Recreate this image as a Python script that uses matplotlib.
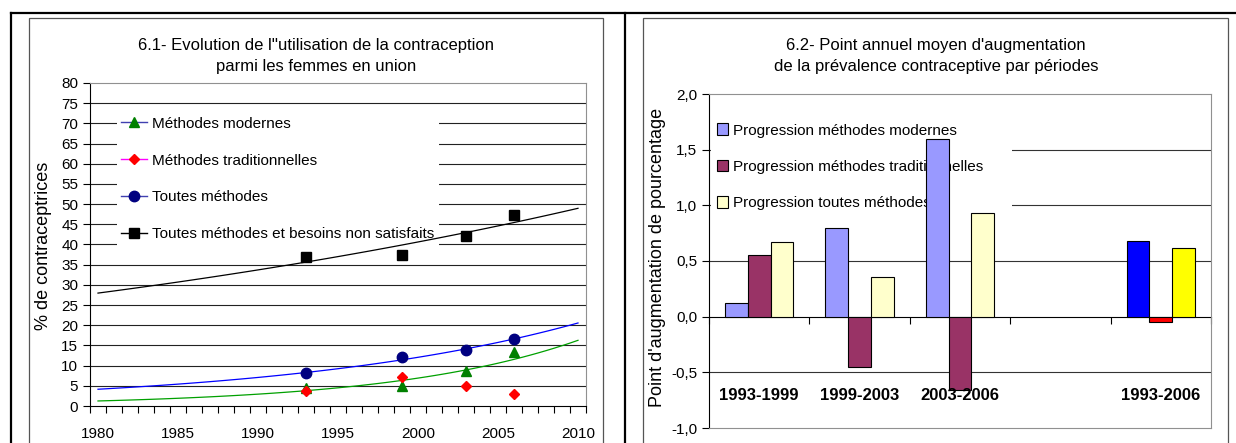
import numpy as np
import matplotlib
matplotlib.use("Agg")
import matplotlib.pyplot as plt
from matplotlib.lines import Line2D
from matplotlib.patches import Patch, Rectangle
from matplotlib.ticker import FuncFormatter, MultipleLocator

plt.rcParams['font.family'] = ['Liberation Sans', 'DejaVu Sans']

# --- data, panel 6.1 (% of women in union) ---
years = [1993, 1999, 2003, 2006]
modernes = [4.4, 4.9, 8.6, 13.4]
traditionnelles = [3.6, 7.1, 5.0, 3.0]
toutes = [8.1, 12.1, 13.8, 16.5]
toutes_besoins = [37.0, 37.5, 42.2, 47.4]

# --- data, panel 6.2 (annual points of increase) ---
periodes = ['1993-1999', '1999-2003', '2003-2006', '', '1993-2006']
prog_modernes = [0.12, 0.80, 1.60, np.nan, 0.68]
prog_trad = [0.55, -0.45, -0.66, np.nan, -0.05]
prog_toutes = [0.67, 0.36, 0.93, np.nan, 0.62]
col_modernes = ['#9999FF', '#9999FF', '#9999FF', '#9999FF', '#0000FF']
col_trad = ['#993366', '#993366', '#993366', '#993366', '#FF0000']
col_toutes = ['#FFFFCC', '#FFFFCC', '#FFFFCC', '#FFFFCC', '#FFFF00']

W, H = 1236, 443
fig = plt.figure(figsize=(W / 100, H / 100), dpi=100)


def fx(px):
    return px / W


def fy(py):
    return 1 - py / H


# outer black frame and divider
fig.add_artist(Line2D([fx(11), 1], [fy(13), fy(13)], color='black', lw=1.6))
fig.add_artist(Line2D([fx(11), fx(11)], [fy(13), 0], color='black', lw=1.6))
fig.add_artist(Line2D([fx(625), fx(625)], [fy(13), 0], color='black', lw=1.6))
# grey chart-area boxes
fig.add_artist(Rectangle((fx(29), -0.1), fx(603 - 29), fy(18) + 0.1,
                         fill=False, edgecolor='#555555', lw=0.9))
fig.add_artist(Rectangle((fx(643), -0.1), fx(1228 - 643), fy(18) + 0.1,
                         fill=False, edgecolor='#555555', lw=0.9))

# ---------------- panel 6.1 ----------------
ax1 = fig.add_axes([fx(90), fy(406), fx(586 - 90), (406 - 83) / H])
ax1.set_xlim(1979.5, 2010.5)
ax1.set_ylim(0, 80)
ax1.yaxis.set_major_locator(MultipleLocator(5))
ax1.set_xticks(range(1980, 2011, 5))
ax1.set_xticks(np.arange(1979.5, 2011, 1), minor=True)
ax1.tick_params(axis='x', which='major', length=0, pad=15, labelsize=11)
ax1.tick_params(axis='x', which='minor', length=5, width=0.8)
ax1.tick_params(axis='y', length=5, width=0.8, labelsize=11)
for y in range(5, 80, 5):
    ax1.axhline(y, color='#222222', lw=0.8, zorder=0)
for s in ['top', 'right']:
    ax1.spines[s].set_color('#909090')
for s in ['left', 'bottom']:
    ax1.spines[s].set_color('black')

# exponential trendlines fitted on the observed points
xt = np.linspace(1980, 2010, 61)
for vals, c in [(modernes, '#00A000'), (toutes, '#0000FF'), (toutes_besoins, 'black')]:
    b, a = np.polyfit(years, np.log(vals), 1)
    ax1.plot(xt, np.exp(a + b * xt), color=c, lw=0.9, zorder=2)

ax1.plot(years, modernes, ls='none', marker='^', ms=7.5, color='#008000', zorder=3)
ax1.plot(years, traditionnelles, ls='none', marker='D', ms=5.5, color='#FF0000', zorder=4)
ax1.plot(years, toutes, ls='none', marker='o', ms=7.5, color='#000080', zorder=3)
ax1.plot(years, toutes_besoins, ls='none', marker='s', ms=7, color='black', zorder=3)

h1 = [
    Line2D([], [], color='#4040B0', lw=1, marker='^', ms=7.5, mfc='#008000', mec='#008000'),
    Line2D([], [], color='#FF00FF', lw=1, marker='D', ms=5.5, mfc='#FF0000', mec='#FF0000'),
    Line2D([], [], color='#4040B0', lw=1, marker='o', ms=7.5, mfc='#000080', mec='#000080'),
    Line2D([], [], color='black', lw=1, marker='s', ms=7, mfc='black', mec='black'),
]
lab1 = ['Méthodes modernes', 'Méthodes traditionnelles', 'Toutes méthodes',
        'Toutes méthodes et besoins non satisfaits']
leg1 = ax1.legend(h1, lab1, loc='upper left', bbox_to_anchor=(0.054, 0.91),
                  borderaxespad=0, fontsize=11, frameon=True, fancybox=False,
                  facecolor='white', edgecolor='none', framealpha=1,
                  handlelength=1.7, handletextpad=0.3, labelspacing=1.5,
                  borderpad=0.3)
leg1.set_zorder(1)

fig.text(fx(316), fy(56), "6.1- Evolution de l''utilisation de la contraception\nparmi les femmes en union",
         ha='center', va='center', fontsize=12, linespacing=1.48)
fig.text(fx(43), fy(246), '% de contraceptrices', rotation=90,
         ha='center', va='center', fontsize=13)

# ---------------- panel 6.2 ----------------
ax2 = fig.add_axes([fx(709), fy(428), fx(1211 - 709), (428 - 94) / H])
ax2.set_xlim(-0.5, 4.5)
ax2.set_ylim(-1.0, 2.0)
ax2.yaxis.set_major_locator(MultipleLocator(0.5))
ax2.yaxis.set_major_formatter(FuncFormatter(lambda v, p: f'{v:.1f}'.replace('.', ',')))
ax2.tick_params(axis='y', length=5, width=0.8, labelsize=11)
ax2.set_xticks([])
for y in [1.5, 1.0, 0.5, -0.5]:
    ax2.axhline(y, color='#333333', lw=0.8, zorder=0)
for s in ['top', 'right', 'bottom']:
    ax2.spines[s].set_color('#909090')
ax2.spines['left'].set_color('black')

x = np.arange(len(periodes))
bw = 0.227
ax2.bar(x - bw, prog_modernes, bw, color=col_modernes, edgecolor='black', lw=0.8, zorder=3)
ax2.bar(x, prog_trad, bw, color=col_trad, edgecolor='black', lw=0.8, zorder=3)
ax2.bar(x + bw, prog_toutes, bw, color=col_toutes, edgecolor='black', lw=0.8, zorder=3)

# category axis drawn through zero
zax = ax2.secondary_xaxis(1 / 3)
zax.set_xticks(np.arange(-0.5, 4.6, 1))
zax.set_xticklabels([])
zax.tick_params(length=5, width=0.8, direction='out')
zax.spines['bottom'].set_color('black')
zax.spines['bottom'].set_zorder(4)
for xi, lab in zip(x, periodes):
    ax2.text(xi, -0.71, lab, ha='center', va='center', fontsize=12,
             fontweight='bold')

h2 = [Patch(facecolor='#9999FF', edgecolor='black', lw=0.8),
      Patch(facecolor='#993366', edgecolor='black', lw=0.8),
      Patch(facecolor='#FFFFCC', edgecolor='black', lw=0.8)]
lab2 = ['Progression méthodes modernes', 'Progression méthodes traditionnelles',
        'Progression toutes méthodes']
leg2 = ax2.legend(h2, lab2, loc='upper left', bbox_to_anchor=(0.004, 0.0, 0.6, 0.93),
                  mode='expand', borderaxespad=0, fontsize=11, frameon=True,
                  fancybox=False, facecolor='white', edgecolor='none', framealpha=1,
                  handlelength=0.7, handleheight=0.8, handletextpad=0.35,
                  labelspacing=1.45, borderpad=0.4)
leg2.set_zorder(1)

fig.text(fx(936), fy(56), "6.2- Point annuel moyen d'augmentation\nde la prévalence contraceptive par périodes",
         ha='center', va='center', fontsize=12, linespacing=1.48)
fig.text(fx(657), fy(257), "Point d'augmentation de pourcentage", rotation=90,
         ha='center', va='center', fontsize=13)

fig.savefig('out.png', dpi=100)
